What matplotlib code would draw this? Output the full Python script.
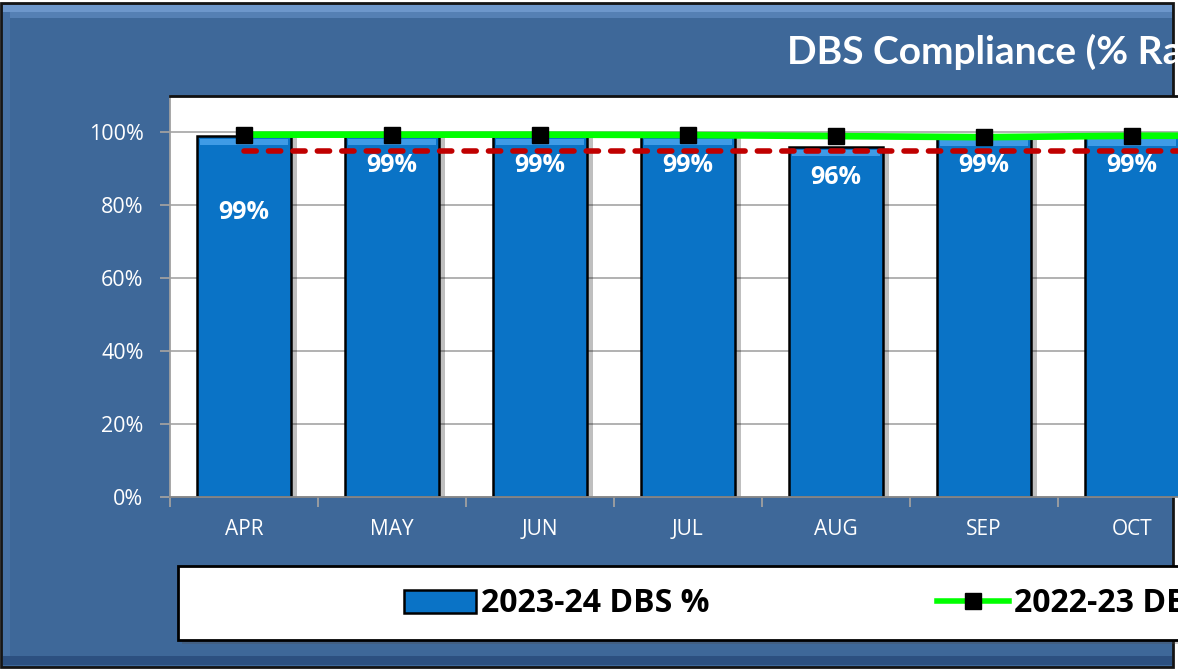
import numpy as np
import matplotlib
matplotlib.use("Agg")
import matplotlib.pyplot as plt
import matplotlib.patheffects as pe
from matplotlib.patches import Rectangle
from matplotlib.lines import Line2D
from matplotlib.ticker import PercentFormatter, FixedLocator

plt.rcParams["font.family"] = ["Open Sans", "DejaVu Sans"]

# data (chart is cut off on the right after OCT)
months = ["APR", "MAY", "JUN", "JUL", "AUG", "SEP", "OCT", "NOV"]
dbs_2023_24 = [0.99, 0.99, 0.99, 0.99, 0.96, 0.988, 0.988]
dbs_2022_23 = [0.994, 0.994, 0.994, 0.993, 0.990, 0.987, 0.991, 0.991]
target = [0.95, 0.95, 0.95, 0.95, 0.95, 0.95, 0.95, 0.95]
y_ticks = [0.0, 0.2, 0.4, 0.6, 0.8, 1.0]

title = "DBS Compliance (% Rate)"
bar_label = "2023-24 DBS %"
line_label = "2022-23 DBS %"

# style
label_drop = [55, 21, 21, 21, 22, 21, 21]  # points below bar top
PANEL = "#3E6899"
BAR = "#0A73C6"

W, H = 1178, 670
fig = plt.figure(figsize=(W / 100, H / 100), dpi=100, facecolor="white")


def fx(px):
    return px / W


def fy(py):
    return 1 - py / H


def fig_rect(x0, y0, x1, y1, **kw):
    # rectangle given in pixel coords from the top-left corner
    r = Rectangle((fx(x0), fy(y1)), (x1 - x0) / W, (y1 - y0) / H,
                  transform=fig.transFigure, **kw)
    fig.add_artist(r)
    return r


# blue chart panel with a soft bevel
fig_rect(1, 3, 1173, 667, facecolor=PANEL, edgecolor="#151515", linewidth=2, zorder=-10)
fig_rect(3, 5, 1172, 12, facecolor="#6D97CB", edgecolor="none", zorder=-9)
fig_rect(3, 12, 1172, 18, facecolor="#5580B4", edgecolor="none", zorder=-9)
fig_rect(3, 12, 10, 664, facecolor="#4671A4", edgecolor="none", zorder=-9)
fig_rect(3, 656, 1172, 665, facecolor="#2C5080", edgecolor="none", zorder=-9)

fig.text(fx(787), fy(64), title, color="white", fontsize=28, fontweight="bold",
         family=["Lato", "DejaVu Sans"], ha="left", va="baseline")

# plot area: 148 px per month, extends past the right edge like the reference
ax = fig.add_axes([fx(170), fy(497), 148 * 12 / W, (497 - 96) / H])
ax.set_facecolor("white")
x_all = np.arange(len(months))
x_bar = np.arange(len(dbs_2023_24))

bars = ax.bar(x_bar, dbs_2023_24, width=0.64, color=BAR, edgecolor="black",
              linewidth=1.8, zorder=2, label=bar_label)
for b in bars:
    b.set_path_effects([pe.SimplePatchShadow(offset=(4, -1), shadow_rgbFace="black", alpha=0.25),
                        pe.Normal()])
    # light bevel along the top of each bar
    x0, w, h = b.get_x(), b.get_width(), b.get_height()
    ax.add_patch(Rectangle((x0 + 0.02, h - 0.025), w - 0.04, 0.018, facecolor="#3F9BE6",
                           edgecolor="none", zorder=2.5))

for xi, v, d in zip(x_bar, dbs_2023_24, label_drop):
    ax.annotate(f"{v:.0%}", (xi, v), xytext=(0, -d), textcoords="offset points",
                ha="center", va="center", color="white", fontsize=18, fontweight="bold",
                zorder=5)

ax.plot(x_all, target, color="#C00000", linewidth=4, linestyle=(0, (2.2, 2.2)),
        dash_capstyle="round", zorder=3, label="Target")
ax.plot(x_all, dbs_2022_23, color="#00FF00", linewidth=4.8, marker="s", markersize=11,
        markerfacecolor="black", markeredgecolor="black", zorder=4, label=line_label)

ax.set_xlim(-0.5, 11.5)
ax.set_ylim(0, 1.1)
ax.yaxis.set_major_locator(FixedLocator(y_ticks))
ax.yaxis.set_major_formatter(PercentFormatter(1.0, decimals=0))
ax.set_xticks(x_bar)
ax.set_xticklabels(months[:len(x_bar)])
ax.set_xticks(np.arange(-0.5, 12, 1), minor=True)
ax.tick_params(axis="x", which="major", length=0, pad=16, labelcolor="white", labelsize=15)
ax.tick_params(axis="x", which="minor", length=7, width=1.3, color="#A0A0A0", direction="out")
ax.tick_params(axis="y", length=7, width=1.3, color="#A0A0A0", direction="out",
               pad=12, labelcolor="white", labelsize=15.5)
ax.grid(True, axis="y", color="#ABABAB", linewidth=1.3)
ax.set_axisbelow(True)
ax.spines["right"].set_visible(False)
ax.spines["top"].set_color("#101010")
ax.spines["top"].set_linewidth(2)
ax.spines["left"].set_color("#A0A0A0")
ax.spines["left"].set_linewidth(1.3)
ax.spines["bottom"].set_color("#8A8A8A")
ax.spines["bottom"].set_linewidth(1.3)

# legend box
fig_rect(178, 566, 1200, 640, facecolor="white", edgecolor="black", linewidth=2, zorder=1,
         path_effects=[pe.SimplePatchShadow(offset=(3, -3), alpha=0.3), pe.Normal()])

bar_handle = Rectangle((0, 0), 1, 1, facecolor=BAR, edgecolor="black", linewidth=1.8)
line_handle = Line2D([], [], color="#00FF00", linewidth=4, marker="s", markersize=11,
                     markerfacecolor="black", markeredgecolor="black")
leg_kw = dict(loc="center left", frameon=False, borderpad=0, borderaxespad=0,
              prop={"size": 23, "weight": "bold"}, handletextpad=0.15)
fig.legend([bar_handle], [bar_label], bbox_to_anchor=(fx(404), fy(604)),
           handlelength=2.25, handleheight=0.75, **leg_kw)
fig.legend([line_handle], [line_label], bbox_to_anchor=(fx(937), fy(604)),
           handlelength=2.25, **leg_kw)

fig.savefig("out.png", dpi=100)
